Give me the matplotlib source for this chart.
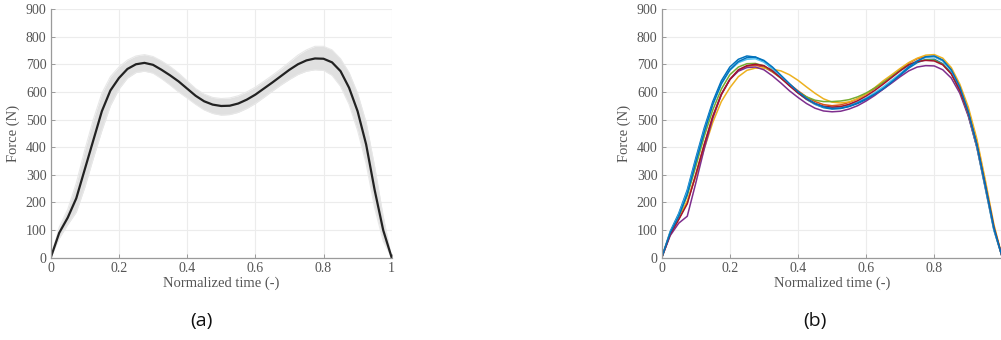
import numpy as np
import matplotlib
matplotlib.use("Agg")
import matplotlib.pyplot as plt

# ---------------- data ----------------
t = [0.0, 0.025, 0.05, 0.075, 0.1, 0.125, 0.15, 0.175, 0.2, 0.225, 0.25, 0.275, 0.3,
     0.325, 0.35, 0.375, 0.4, 0.425, 0.45, 0.475, 0.5, 0.525, 0.55, 0.575, 0.6,
     0.625, 0.65, 0.675, 0.7, 0.725, 0.75, 0.775, 0.8, 0.825, 0.85, 0.875, 0.9,
     0.925, 0.95, 0.975, 1.0]

mean_force = [0, 90, 145, 215, 320, 425, 530, 605, 650, 683, 700, 705, 698, 680, 660,
              638, 612, 586, 566, 554, 549, 550, 558, 572, 590, 612, 634, 657, 680, 700,
              714, 721, 720, 707, 675, 615, 530, 410, 245, 100, 0]

band_upper = [0, 110, 175, 270, 390, 500, 595, 655, 690, 715, 730, 735, 728, 712, 692,
              668, 640, 612, 592, 580, 576, 578, 586, 600, 617, 638, 660, 683, 708, 733,
              752, 765, 765, 752, 720, 670, 595, 490, 330, 150, 0]

band_lower = [0, 70, 120, 165, 255, 360, 460, 550, 610, 650, 670, 675, 668, 648, 625,
              600, 578, 555, 535, 522, 516, 518, 526, 540, 558, 580, 603, 625, 645, 663,
              675, 680, 678, 660, 620, 555, 460, 340, 180, 60, 0]

blue_1 = [0, 95, 160, 245, 360, 470, 565, 640, 690, 718, 730, 726, 710, 683, 653, 624,
          597, 573, 555, 543, 538, 540, 547, 558, 572, 590, 610, 634, 660, 686, 706, 717,
          718, 702, 668, 605, 515, 400, 250, 100, 0]
orange_1 = [0, 85, 140, 200, 300, 410, 510, 590, 645, 678, 693, 696, 690, 672, 650, 628,
            604, 582, 565, 554, 550, 553, 562, 575, 592, 612, 634, 656, 680, 704, 720,
            728, 728, 714, 680, 620, 535, 420, 270, 115, 0]
yellow_1 = [0, 88, 145, 205, 295, 395, 490, 565, 615, 655, 678, 686, 686, 682, 676, 662,
            642, 618, 595, 575, 563, 560, 564, 575, 592, 615, 640, 662, 685, 706, 722,
            733, 735, 722, 688, 628, 545, 430, 280, 120, 0]
purple_1 = [0, 80, 125, 150, 270, 395, 505, 590, 645, 675, 688, 690, 680, 658, 632, 604,
            580, 558, 541, 531, 528, 530, 538, 550, 567, 587, 610, 632, 655, 676, 690,
            695, 694, 680, 650, 595, 512, 400, 255, 105, 0]
green_1 = [0, 90, 150, 225, 330, 440, 535, 610, 662, 690, 702, 703, 694, 675, 650, 624,
           600, 582, 570, 565, 565, 567, 572, 582, 596, 614, 634, 656, 678, 698, 710, 716,
           715, 700, 666, 606, 520, 405, 258, 105, 0]
cyan_1 = [0, 92, 155, 238, 350, 460, 555, 628, 678, 706, 718, 720, 708, 684, 654, 625,
          598, 574, 556, 546, 543, 545, 552, 563, 578, 597, 618, 642, 666, 692, 712, 725,
          727, 712, 676, 612, 522, 405, 255, 102, 0]
darkred_1 = [0, 85, 138, 195, 300, 410, 512, 592, 645, 680, 695, 700, 695, 676, 650, 622,
             596, 574, 558, 548, 545, 547, 555, 568, 585, 605, 628, 652, 676, 698, 710,
             714, 712, 698, 665, 606, 522, 410, 262, 110, 0]
blue_2 = [0, 90, 150, 230, 345, 455, 555, 630, 680, 710, 724, 726, 714, 690, 660, 630,
          601, 577, 558, 546, 540, 541, 548, 560, 575, 592, 612, 636, 662, 690, 712, 727,
          730, 715, 680, 618, 528, 410, 262, 108, 0]

series_b = [blue_1, orange_1, yellow_1, purple_1, green_1, cyan_1, darkred_1, blue_2]
colors_b = ["#0072BD", "#D95319", "#EDB120", "#7E2F8E", "#77AC30", "#4DBEEE",
            "#A2142F", "#0072BD"]

xticks = [0, 0.2, 0.4, 0.6, 0.8, 1]
xticklabels_a = ["0", "0.2", "0.4", "0.6", "0.8", "1"]
xticklabels_b = ["0", "0.2", "0.4", "0.6", "0.8", ""]
yticks = [0, 100, 200, 300, 400, 500, 600, 700, 800, 900]
panel_labels = ["(a)", "(b)"]

# ---------------- figure ----------------
W, H = 1001, 340
fig = plt.figure(figsize=(W / 100, H / 100), dpi=100)
serif = ["Liberation Serif", "DejaVu Serif"]
tick_col = "#555555"


def style(ax, xlabels):
    ax.set_xlim(0, 1)
    ax.set_ylim(0, 900)
    ax.set_xticks(xticks)
    ax.set_xticklabels(xlabels)
    ax.set_yticks(yticks)
    ax.grid(True, color="#ececec", linewidth=0.8)
    ax.set_axisbelow(True)
    for s in ["top", "right"]:
        ax.spines[s].set_visible(False)
    for s in ["left", "bottom"]:
        ax.spines[s].set_color("#9a9a9a")
        ax.spines[s].set_linewidth(0.9)
    ax.tick_params(direction="in", length=3, width=0.7, color="#9a9a9a",
                   labelcolor=tick_col, labelsize=10, pad=3)
    for lab in ax.get_xticklabels() + ax.get_yticklabels():
        lab.set_family(serif)
    ax.set_xlabel("Normalized time (-)", family=serif, fontsize=10.5,
                  color=tick_col, labelpad=1)
    ax.set_ylabel("Force (N)", family=serif, fontsize=10.5, color=tick_col,
                  labelpad=4)


ax1 = fig.add_axes([50.7 / W, (H - 257.7) / H, 341.0 / W, 248.7 / H])
ax1.fill_between(t, band_lower, band_upper, color="#e0e0e0", linewidth=0)
ax1.plot(t, band_upper, color="#e8e8e8", linewidth=0.8)
ax1.plot(t, band_lower, color="#e8e8e8", linewidth=0.8)
ax1.plot(t, mean_force, color="#222222", linewidth=1.6)
style(ax1, xticklabels_a)

ax2 = fig.add_axes([661.7 / W, (H - 257.7) / H, 340.7 / W, 248.7 / H])
for ys, c in zip(series_b, colors_b):
    ax2.plot(t, ys, color=c, linewidth=1.1)
style(ax2, xticklabels_b)

fig.text(201.7 / W, 1 - 321 / H, panel_labels[0], ha="center", va="center",
         fontsize=14, family=["Open Sans", "DejaVu Sans"], color="#111111")
fig.text(815 / W, 1 - 321 / H, panel_labels[1], ha="center", va="center",
         fontsize=14, family=["Open Sans", "DejaVu Sans"], color="#111111")

fig.savefig("out.png", dpi=100)
